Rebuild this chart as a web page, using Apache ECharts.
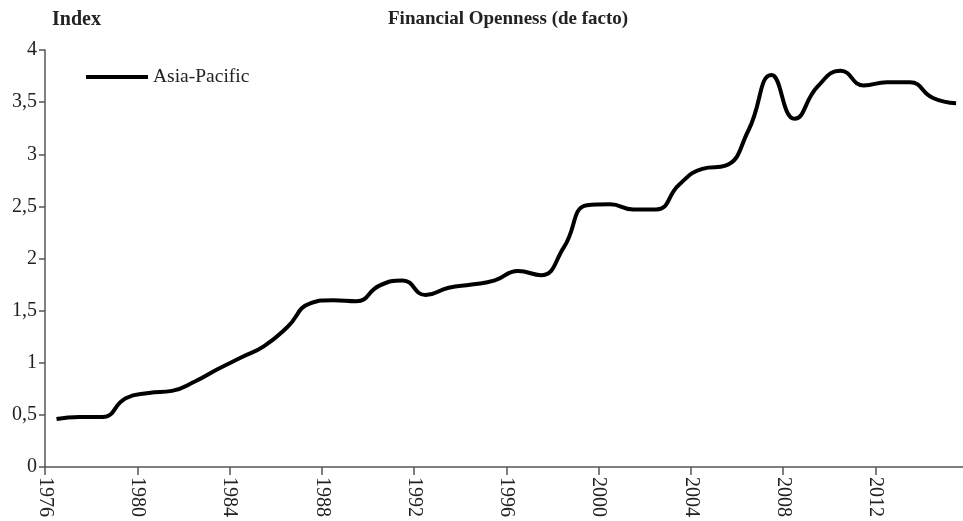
<!DOCTYPE html>
<html>
<head>
<meta charset="utf-8">
<script src="https://cdn.jsdelivr.net/npm/echarts@6/dist/echarts.min.js"></script>
<style>
  html, body { margin: 0; padding: 0; background: #fff; }
  #main { width: 963px; height: 521px; }
</style>
</head>
<body>
<div id="main"></div>
<script>
// years of the series (one point per year, plotted mid-year like the original)
const years = [
  1976, 1977, 1978, 1979, 1980, 1981, 1982, 1983, 1984, 1985,
  1986, 1987, 1988, 1989, 1990, 1991, 1992, 1993, 1994, 1995,
  1996, 1997, 1998, 1999, 2000, 2001, 2002, 2003, 2004, 2005,
  2006, 2007, 2008, 2009, 2010, 2011, 2012, 2013, 2014, 2015
];
// Asia-Pacific financial openness index
const asiaPacific = [
  0.46, 0.48, 0.48, 0.66, 0.71, 0.73, 0.82, 0.94, 1.05, 1.16,
  1.34, 1.57, 1.60, 1.59, 1.74, 1.79, 1.65, 1.72, 1.75, 1.79,
  1.88, 1.84, 2.11, 2.51, 2.52, 2.47, 2.47, 2.71, 2.86, 2.89,
  3.23, 3.76, 3.34, 3.65, 3.80, 3.66, 3.69, 3.69, 3.54, 3.49
];
const yTicks = [0, 0.5, 1, 1.5, 2, 2.5, 3, 3.5, 4];

const serif = '"Liberation Serif", "DejaVu Serif", serif';
const axisColor = '#555';

const chart = echarts.init(document.getElementById('main'), null, {renderer: 'canvas'});

const option = {
  backgroundColor: '#fff',
  animation: false,
  title: [
    {
      text: 'Index',
      left: 47, top: 5,
      textStyle: {fontFamily: serif, fontWeight: 'bold', fontSize: 20, color: '#222'}
    },
    {
      text: 'Financial Openness (de facto)',
      left: 383, top: 5,
      textStyle: {fontFamily: serif, fontWeight: 'bold', fontSize: 19, color: '#222'}
    }
  ],
  legend: {
    left: 81, top: 62,
    itemWidth: 62, itemHeight: 4, itemGap: 10,
    icon: 'rect',
    data: ['Asia-Pacific'],
    textStyle: {fontFamily: serif, fontSize: 19.5, color: '#222'},
    itemStyle: {color: '#000'}
  },
  grid: {left: 45, right: 0, top: 50, bottom: 54, outerBoundsMode: 'none'},
  xAxis: {
    type: 'value',
    min: 1976, max: 2015.8, interval: 4,
    axisLine: {show: true, onZero: false, lineStyle: {color: axisColor, width: 1.5}},
    axisTick: {show: true, length: 8, lineStyle: {color: axisColor, width: 1.5}},
    splitLine: {show: false},
    axisLabel: {
      rotate: -90, margin: 10, showMaxLabel: false,
      fontFamily: serif, fontSize: 20, color: '#222',
      formatter: v => String(v)
    }
  },
  yAxis: {
    type: 'value',
    min: 0, max: yTicks[yTicks.length - 1], interval: 0.5,
    axisLine: {show: true, lineStyle: {color: axisColor, width: 1.5}},
    axisTick: {show: true, length: 6, lineStyle: {color: axisColor, width: 1.5}},
    splitLine: {show: false},
    axisLabel: {
      margin: 8,
      fontFamily: serif, fontSize: 20, color: '#222',
      formatter: v => String(v).replace('.', ',')
    }
  },
  series: [
    {
      name: 'Asia-Pacific',
      type: 'line',
      smooth: 0.5,
      symbol: 'none',
      lineStyle: {color: '#000', width: 4},
      itemStyle: {color: '#000'},
      data: years.map((y, i) => [y + 0.5, asiaPacific[i]])
    }
  ]
};

chart.setOption(option);
</script>
</body>
</html>
